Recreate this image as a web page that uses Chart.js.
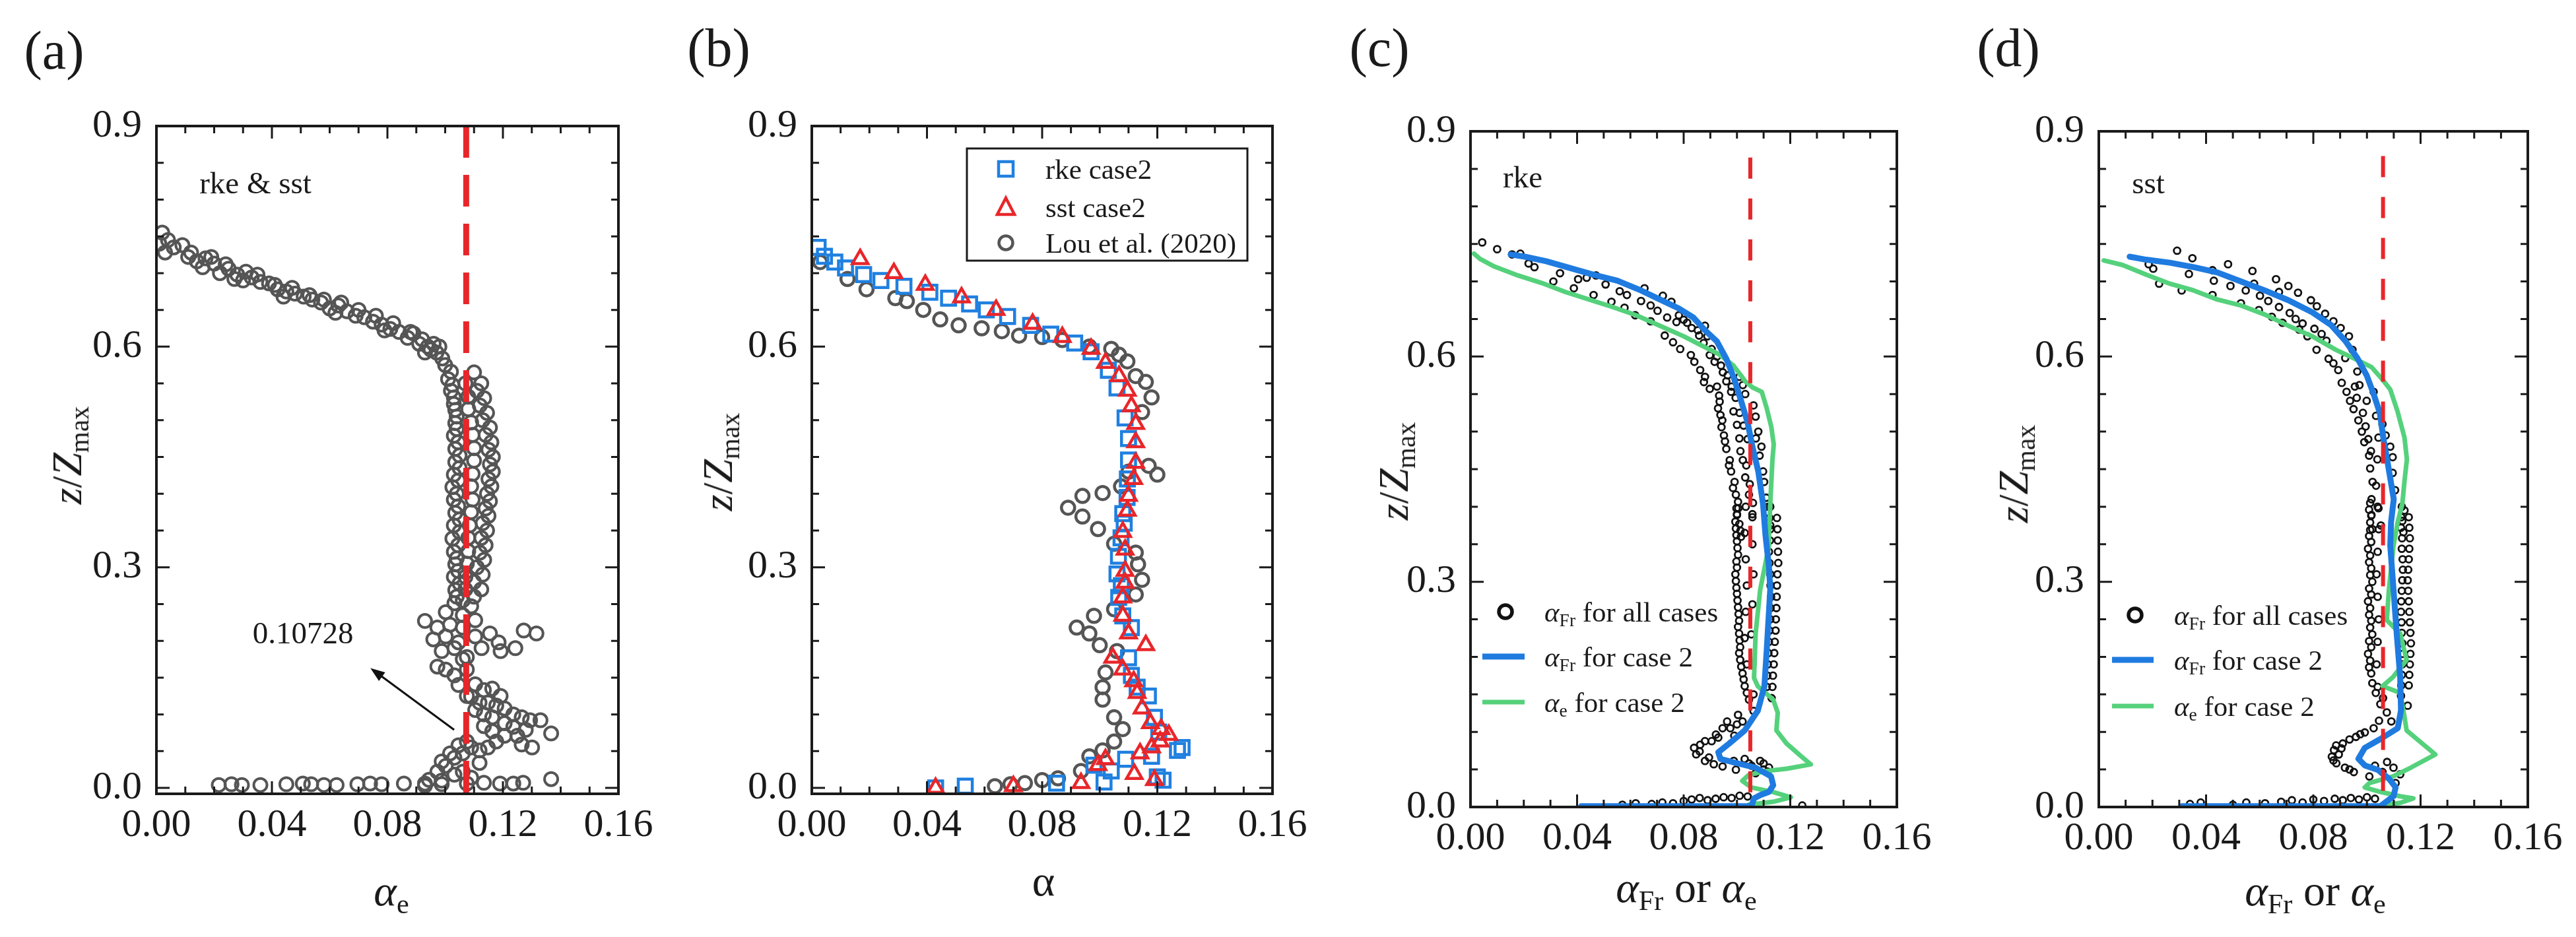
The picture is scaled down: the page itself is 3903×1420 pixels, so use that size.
<!DOCTYPE html>
<html>
<head>
<meta charset="utf-8">
<script src="https://cdn.jsdelivr.net/npm/chart.js@4.4.1/dist/chart.umd.min.js"></script>
<style>
  html, body { margin: 0; padding: 0; background: #fff; }
  #page { position: relative; width: 3903px; height: 1420px; overflow: hidden;
          font-family: 'Liberation Serif', 'Times New Roman', serif; color: #1a1a1a; }
  canvas { position: absolute; left: 0; top: 0; }
  .t { position: absolute; white-space: nowrap; line-height: 1; transform: translate(-50%, -50%); }
  .tl { position: absolute; white-space: nowrap; line-height: 1; transform: translateY(-50%); font-size: 43px; }
  .yt { font-size: 64px; transform: translate(-50%, -50%) rotate(-90deg); }
  sub { font-size: 0.64em; vertical-align: -0.28em; font-style: normal; line-height: 0; }
  #marks { position: absolute; left: 0; top: 0; }
</style>
</head>
<body>
<div id="page">
  <canvas id="ca" width="3903" height="1420"></canvas>
  <canvas id="cb" width="3903" height="1420"></canvas>
  <canvas id="cc" width="3903" height="1420"></canvas>
  <canvas id="cd" width="3903" height="1420"></canvas>

  <!-- panel labels -->
  <div class="t" style="left:82px;top:77px;font-size:82px">(a)</div>
  <div class="t" style="left:1089px;top:73px;font-size:82px">(b)</div>
  <div class="t" style="left:2090px;top:73px;font-size:82px">(c)</div>
  <div class="t" style="left:3043px;top:73px;font-size:82px">(d)</div>

  <!-- axis titles -->
  <div class="t yt" style="left:102px;top:690px"><i>z</i>/<i>Z</i><sub>max</sub></div>
  <div class="t yt" style="left:1088px;top:700px"><i>z</i>/<i>Z</i><sub>max</sub></div>
  <div class="t yt" style="left:2112px;top:714px"><i>z</i>/<i>Z</i><sub>max</sub></div>
  <div class="t yt" style="left:3051px;top:718px"><i>z</i>/<i>Z</i><sub>max</sub></div>

  <div class="t" style="left:593px;top:1350px;font-size:66px"><i>α</i><sub>e</sub></div>
  <div class="t" style="left:1581px;top:1335px;font-size:66px">α</div>
  <div class="t" style="left:2555px;top:1345px;font-size:66px"><i>α</i><sub>Fr</sub> or <i>α</i><sub>e</sub></div>
  <div class="t" style="left:3508px;top:1350px;font-size:66px"><i>α</i><sub>Fr</sub> or <i>α</i><sub>e</sub></div>

  <!-- in-plot notes -->
  <div class="t" style="left:387px;top:277px;font-size:47px">rke &amp; sst</div>
  <div class="t" style="left:459px;top:959px;font-size:47px">0.10728</div>
  <div class="t" style="left:2307px;top:268px;font-size:47px">rke</div>
  <div class="t" style="left:3255px;top:277px;font-size:47px">sst</div>

  <!-- legend symbols -->
  <svg id="marks" width="3903" height="1420">
    <rect x="1465" y="225" width="425" height="170" fill="#fff" stroke="#1a1a1a" stroke-width="3"/>
    <rect x="1513" y="245" width="22" height="22" fill="none" stroke="#1f80e0" stroke-width="4.5"/>
    <polygon points="1524,300 1537,325 1511,325" fill="none" stroke="#e8262a" stroke-width="4.5"/>
    <circle cx="1524" cy="368" r="10.5" fill="none" stroke="#555" stroke-width="4.5"/>

    <circle cx="2281" cy="927" r="10" fill="none" stroke="#111" stroke-width="5.5"/>
    <line x1="2246" y1="995" x2="2310" y2="995" stroke="#1f7be0" stroke-width="9"/>
    <line x1="2246" y1="1064" x2="2310" y2="1064" stroke="#55d17c" stroke-width="7"/>

    <circle cx="3235" cy="932" r="10" fill="none" stroke="#111" stroke-width="5.5"/>
    <line x1="3200" y1="1000" x2="3263" y2="1000" stroke="#1f7be0" stroke-width="9"/>
    <line x1="3200" y1="1070" x2="3263" y2="1070" stroke="#55d17c" stroke-width="7"/>
  </svg>

  <!-- legend texts -->
  <div class="tl" style="left:1584px;top:256px">rke case2</div>
  <div class="tl" style="left:1584px;top:314px">sst case2</div>
  <div class="tl" style="left:1584px;top:368px">Lou et al. (2020)</div>

  <div class="tl" style="left:2340px;top:927px"><i>α</i><sub>Fr</sub> for all cases</div>
  <div class="tl" style="left:2340px;top:995px"><i>α</i><sub>Fr</sub> for case 2</div>
  <div class="tl" style="left:2340px;top:1064px"><i>α</i><sub>e</sub> for case 2</div>

  <div class="tl" style="left:3294px;top:932px"><i>α</i><sub>Fr</sub> for all cases</div>
  <div class="tl" style="left:3294px;top:1000px"><i>α</i><sub>Fr</sub> for case 2</div>
  <div class="tl" style="left:3294px;top:1070px"><i>α</i><sub>e</sub> for case 2</div>
</div>

<script>
// axis ticks
const xTicks = [0, 0.04, 0.08, 0.12, 0.16];
const yTicks = [0, 0.3, 0.6, 0.9];
const xMinorStep = 0.01;
const yMinorStep = 0.05;

// (a) alpha_e, rke & sst: [alpha, z/Zmax]
const aCircles = [
  [0.002,0.755],[0.001,0.74],[0.003,0.728],[0.006,0.735],[0.009,0.738],[0.011,0.722],[0.014,0.716],[0.017,0.72],
  [0.02,0.713],[0.022,0.7],[0.025,0.706],[0.028,0.698],[0.031,0.702],[0.033,0.694],[0.036,0.688],[0.039,0.686],
  [0.042,0.678],[0.045,0.675],[0.048,0.672],[0.051,0.668],[0.054,0.664],[0.057,0.66],[0.06,0.652],[0.063,0.656],
  [0.066,0.648],[0.069,0.642],[0.072,0.64],[0.075,0.634],[0.078,0.63],[0.081,0.624],[0.084,0.62],[0.087,0.612],
  [0.089,0.618],[0.091,0.604],[0.094,0.6],[0.096,0.604],[0.097,0.592],[0.099,0.584],[0.1,0.575],[0.102,0.566],
  [0.012,0.728],[0.019,0.722],[0.024,0.712],[0.03,0.69],[0.035,0.698],[0.041,0.684],[0.047,0.68],[0.053,0.67],
  [0.058,0.664],[0.064,0.66],[0.07,0.65],[0.076,0.642],[0.082,0.632],[0.088,0.62],[0.092,0.61],[0.095,0.596],
  [0.004,0.745],[0.016,0.708],[0.027,0.692],[0.044,0.668],[0.062,0.646],[0.079,0.622],[0.093,0.592],[0.098,0.6],
  [0.101,0.556],[0.102,0.54],[0.103,0.522],[0.104,0.505],[0.104,0.488],[0.1045,0.47],[0.105,0.452],[0.105,0.435],
  [0.1045,0.418],[0.104,0.4],[0.1045,0.383],[0.105,0.365],[0.105,0.348],[0.1045,0.33],[0.104,0.312],[0.1045,0.295],
  [0.105,0.278],[0.104,0.26],
  [0.1025,0.548],[0.103,0.531],[0.1035,0.514],[0.1035,0.496],[0.103,0.479],[0.1035,0.461],[0.1035,0.443],[0.103,0.426],
  [0.1025,0.409],[0.103,0.392],[0.1035,0.374],[0.103,0.357],[0.1025,0.339],[0.103,0.321],[0.1035,0.304],[0.103,0.287],
  [0.1035,0.269],
  [0.107,0.55],[0.108,0.532],[0.108,0.515],[0.109,0.497],[0.1095,0.48],[0.11,0.462],[0.11,0.445],[0.1095,0.427],
  [0.109,0.41],[0.1095,0.392],[0.109,0.375],[0.1085,0.357],[0.108,0.34],[0.108,0.322],[0.1075,0.305],[0.107,0.287],
  [0.107,0.27],
  [0.11,0.565],[0.111,0.54],[0.112,0.52],[0.113,0.5],[0.114,0.48],[0.115,0.46],[0.1155,0.44],[0.115,0.42],
  [0.1145,0.4],[0.114,0.38],[0.113,0.36],[0.1125,0.34],[0.112,0.32],[0.111,0.3],[0.11,0.28],[0.11,0.26],
  [0.1125,0.55],[0.1135,0.53],[0.1145,0.51],[0.1155,0.49],[0.116,0.47],[0.1165,0.45],[0.1165,0.43],[0.116,0.41],
  [0.1155,0.39],[0.115,0.37],[0.1145,0.35],[0.114,0.33],[0.1135,0.31],[0.113,0.29],[0.1125,0.27],
  [0.093,0.227],[0.0973,0.218],[0.0959,0.202],[0.1002,0.206],[0.0988,0.186],[0.1032,0.19],[0.0973,0.165],[0.1002,0.161],
  [0.1032,0.153],[0.1061,0.218],[0.1046,0.198],[0.1075,0.178],[0.1104,0.206],[0.1126,0.19],[0.1155,0.21],[0.1185,0.198],
  [0.1192,0.186],[0.1243,0.19],[0.1272,0.214],[0.1316,0.21],[0.1017,0.222],[0.1002,0.239],[0.1032,0.251],[0.1061,0.255],
  [0.109,0.247],[0.1075,0.161],[0.1104,0.141],[0.109,0.124],[0.1134,0.133],[0.1148,0.116],[0.1177,0.112],[0.1206,0.108],
  [0.1236,0.1],[0.1265,0.096],[0.1294,0.092],[0.133,0.092],[0.1367,0.074],[0.1279,0.079],[0.125,0.071],[0.1301,0.055],
  [0.1265,0.059],[0.1206,0.071],[0.1177,0.063],[0.1148,0.055],[0.1119,0.051],[0.109,0.055],[0.1206,0.088],[0.1163,0.096],
  [0.1134,0.1],[0.1119,0.116],[0.1061,0.235],[0.1104,0.228],[0.1061,0.175],[0.1046,0.14],[0.1075,0.125],[0.1104,0.106],
  [0.1134,0.084],[0.1163,0.077],[0.1236,0.083],[0.1192,0.125],[0.1163,0.135],
  [0.1061,0.047],[0.1032,0.041],[0.1002,0.03],[0.0973,0.022],[0.0944,0.011],[0.093,0.003],[0.0988,0.01],[0.1032,0.018],
  [0.1061,0.022],[0.109,0.014],[0.1119,0.034],[0.1075,0.063],[0.1046,0.058],[0.1017,0.047],[0.0988,0.036],
  [0.0216,0.004],[0.026,0.005],[0.0296,0.004],[0.036,0.004],[0.045,0.005],[0.0507,0.006],[0.0536,0.005],[0.058,0.004],
  [0.0624,0.004],[0.0696,0.005],[0.074,0.006],[0.078,0.005],[0.0857,0.006],[0.093,0.006],[0.0988,0.005],[0.1075,0.006],
  [0.1134,0.007],[0.119,0.006],[0.1236,0.006],[0.127,0.007],[0.1367,0.012]
];
const aRefAlpha = 0.10728;
const aRefZ = [0.9, -0.008];
const aArrow = [[0.1031, 0.079], [0.0741, 0.163]]; // tail, head

// (b) alpha profiles: [alpha, z/Zmax]
const bRke = [
  [0.0022,0.735],[0.0044,0.723],[0.008,0.715],[0.0117,0.707],[0.018,0.698],[0.024,0.69],[0.032,0.682],[0.041,0.674],
  [0.0475,0.666],[0.0548,0.658],[0.0606,0.65],[0.068,0.641],[0.076,0.629],[0.083,0.617],[0.0913,0.605],[0.097,0.593],
  [0.103,0.568],[0.106,0.544],[0.1088,0.503],[0.11,0.475],[0.11,0.446],[0.1096,0.42],[0.1095,0.395],[0.108,0.373],
  [0.1085,0.36],[0.1074,0.34],[0.1065,0.315],[0.106,0.291],[0.1075,0.275],[0.1066,0.259],[0.108,0.234],[0.111,0.218],
  [0.11,0.177],[0.111,0.153],[0.113,0.137],[0.1169,0.125],[0.119,0.096],[0.1205,0.076],[0.127,0.051],[0.1286,0.055],
  [0.118,0.043],[0.109,0.039],[0.098,0.031],[0.104,0.023],[0.12,0.015],[0.122,0.0106],[0.1015,0.008],[0.085,0.0065],
  [0.0533,0.0024],[0.043,0]
];
const bSst = [
  [0.0168,0.719],[0.0285,0.7],[0.0394,0.684],[0.052,0.667],[0.064,0.65],[0.0767,0.631],[0.087,0.613],[0.097,0.597],
  [0.102,0.578],[0.1067,0.56],[0.1096,0.54],[0.111,0.519],[0.1125,0.495],[0.1125,0.47],[0.1125,0.442],[0.1118,0.42],
  [0.11,0.397],[0.1096,0.377],[0.108,0.348],[0.1088,0.324],[0.1088,0.295],[0.1088,0.279],[0.108,0.259],[0.108,0.234],
  [0.11,0.21],[0.116,0.194],[0.1045,0.177],[0.108,0.161],[0.1118,0.145],[0.113,0.129],[0.1147,0.108],[0.1176,0.088],
  [0.1213,0.08],[0.124,0.072],[0.121,0.063],[0.118,0.055],[0.114,0.047],[0.102,0.039],[0.0994,0.031],[0.112,0.019],
  [0.119,0.0106],[0.0935,0.0065],[0.07,0.0024],[0.043,0]
];
const bLou = [
  [0.0029,0.715],[0.0124,0.692],[0.019,0.678],[0.029,0.666],[0.033,0.662],[0.0387,0.65],[0.0446,0.637],[0.051,0.629],
  [0.059,0.625],[0.066,0.621],[0.072,0.615],[0.08,0.613],[0.087,0.609],[0.0964,0.6],[0.104,0.597],[0.1067,0.589],
  [0.1096,0.58],[0.1125,0.56],[0.116,0.552],[0.118,0.531],[0.1147,0.511],[0.117,0.438],[0.12,0.426],[0.11,0.43],
  [0.1074,0.41],[0.101,0.401],[0.094,0.397],[0.089,0.381],[0.094,0.369],[0.0994,0.352],[0.105,0.332],[0.1125,0.32],
  [0.1133,0.304],[0.1147,0.283],[0.1125,0.263],[0.105,0.243],[0.098,0.234],[0.092,0.218],[0.0964,0.21],[0.1,0.194],
  [0.106,0.186],[0.102,0.157],[0.101,0.137],[0.101,0.12],[0.105,0.096],[0.108,0.08],[0.105,0.063],[0.101,0.051],
  [0.0964,0.043],[0.0935,0.023],[0.0855,0.013],[0.08,0.0106],[0.074,0.0065],[0.069,0.005],[0.0636,0.0024]
];

// (c) rke: [alpha, z/Zmax]
const cAll = [
  [0.0044,0.752],[0.01,0.743],[0.0156,0.736],[0.0187,0.737],[0.0218,0.724],[0.024,0.719],[0.0311,0.7],[0.0336,0.711],
  [0.0388,0.691],[0.0404,0.703],[0.0436,0.705],[0.0462,0.682],[0.0471,0.708],[0.0507,0.696],[0.0529,0.673],[0.056,0.687],
  [0.0578,0.665],[0.0587,0.682],[0.0618,0.655],[0.064,0.674],[0.0653,0.691],[0.0676,0.668],[0.0676,0.647],[0.0702,0.661],
  [0.0722,0.681],[0.0729,0.628],[0.0738,0.652],[0.0754,0.673],[0.076,0.619],[0.0773,0.646],[0.0787,0.61],[0.08,0.649],
  [0.0827,0.602],[0.084,0.593],[0.0853,0.635],[0.0862,0.582],[0.088,0.573],[0.0876,0.566],[0.088,0.641],[0.0889,0.627],
  [0.0898,0.557],[0.0898,0.602],[0.0916,0.593],[0.0933,0.548],[0.0929,0.531],[0.0938,0.522],[0.0942,0.506],[0.0951,0.495],
  [0.096,0.477],[0.0973,0.462],[0.0978,0.447],[0.0991,0.433],[0.0996,0.416],[0.1005,0.398],[0.1009,0.377],[0.1013,0.368],
  [0.0947,0.579],[0.096,0.567],[0.0978,0.553],[0.0987,0.527],[0.1,0.509],[0.1009,0.491],[0.1013,0.474],[0.1022,0.462],
  [0.1031,0.439],[0.1045,0.416],[0.1058,0.386],
  [0.1009,0.573],[0.1022,0.562],[0.1031,0.55],[0.1062,0.535],[0.1071,0.491],[0.1085,0.468],[0.1098,0.447],[0.1102,0.433],
  [0.1116,0.392],[0.1125,0.375],
  [0.0782,0.655],[0.0813,0.645],[0.083,0.638],[0.0858,0.628],[0.0875,0.618],[0.0905,0.61],[0.0925,0.6],[0.094,0.588],
  [0.0965,0.575],[0.098,0.56],[0.0995,0.545],[0.101,0.525],[0.1025,0.508],[0.104,0.49],
  [0.0935,0.54],[0.0945,0.515],[0.0955,0.487],[0.097,0.455],[0.0985,0.425],[0.1,0.39],[0.1015,0.36],[0.0925,0.56],
  [0.1035,0.455],[0.1048,0.43],[0.106,0.405],[0.107,0.52],[0.108,0.5],[0.1092,0.48],[0.111,0.412],[0.1118,0.4],
  [0.1004,0.4065],[0.1,0.389],[0.0996,0.371],[0.1,0.354],[0.1004,0.336],[0.1,0.319],[0.0996,0.301],[0.1,0.284],
  [0.1004,0.266],[0.1008,0.248],[0.1008,0.231],[0.1012,0.213],[0.1012,0.196],[0.1021,0.178],[0.1029,0.161],[0.1045,0.143],
  [0.1062,0.128],
  [0.0998,0.398],[0.0994,0.38],[0.0998,0.362],[0.1002,0.345],[0.0998,0.327],[0.0994,0.31],[0.0998,0.292],[0.1002,0.275],
  [0.1006,0.257],[0.1004,0.24],[0.101,0.222],[0.1008,0.205],[0.1016,0.187],[0.1025,0.17],[0.1037,0.152],
  [0.1033,0.4],[0.1029,0.365],[0.1033,0.33],[0.1037,0.295],[0.1033,0.26],[0.1029,0.225],[0.1037,0.19],
  [0.1058,0.39],[0.1058,0.35],[0.1062,0.31],[0.1058,0.27],[0.1054,0.23],[0.1058,0.19],[0.1062,0.15],
  [0.1125,0.4],[0.1125,0.37],[0.112,0.34],[0.1125,0.31],[0.1128,0.28],[0.1125,0.25],[0.112,0.22],[0.1116,0.19],[0.1112,0.16],
  [0.1122,0.385],[0.1124,0.355],[0.1122,0.325],[0.1126,0.295],[0.1126,0.265],[0.1122,0.235],[0.1118,0.205],[0.1114,0.175],
  [0.115,0.385],[0.1153,0.355],[0.1155,0.325],[0.115,0.295],[0.1148,0.265],[0.1145,0.235],[0.114,0.205],[0.1135,0.175],[0.113,0.145],
  [0.1152,0.37],[0.1154,0.34],[0.1152,0.31],[0.1149,0.28],[0.1146,0.25],[0.1142,0.22],[0.1138,0.19],[0.1133,0.16],
  [0.0963,0.1139],[0.0946,0.105],[0.0921,0.0965],[0.088,0.0877],[0.0839,0.0789],[0.0847,0.0702],[0.088,0.0614],[0.0913,0.057],
  [0.0946,0.054],[0.0905,0.0877],[0.0988,0.0614],[0.1029,0.064],[0.1087,0.0614],[0.112,0.0526],[0.0996,0.0497],[0.1021,0.1139],
  [0.1004,0.1227],[0.1045,0.058],[0.107,0.045],[0.11,0.05],[0.1115,0.047],[0.0975,0.105],[0.099,0.095],[0.0862,0.083],
  [0.086,0.074],[0.0895,0.066],[0.093,0.0925],[0.1,0.11],[0.1055,0.055],[0.11,0.058],
  [0.057,0.003],[0.062,0.005],[0.068,0.004],[0.072,0.006],[0.076,0.005],[0.08,0.008],[0.083,0.01],[0.086,0.012],
  [0.089,0.009],[0.092,0.011],[0.095,0.013],[0.098,0.012],[0.101,0.015],[0.104,0.014],[0.1245,0.002]
];
const cFrCase2 = [
  [0.0151,0.736],[0.0204,0.733],[0.0284,0.727],[0.0373,0.718],[0.0462,0.709],[0.0551,0.701],[0.064,0.688],[0.0711,0.676],
  [0.0782,0.664],[0.0836,0.652],[0.088,0.635],[0.0925,0.62],[0.096,0.597],[0.0987,0.573],[0.1013,0.544],[0.104,0.512],
  [0.1058,0.48],[0.108,0.447],[0.1098,0.403],[0.1107,0.362],[0.112,0.32],[0.1125,0.29],[0.112,0.26],[0.1111,0.205],
  [0.1103,0.161],[0.1078,0.128],[0.1029,0.102],[0.0971,0.0846],[0.093,0.0729],[0.0938,0.064],[0.1004,0.058],[0.107,0.0524],
  [0.1128,0.0407],[0.1136,0.029],[0.112,0.0202],[0.1087,0.0158],[0.1064,0.0114],[0.1054,0.001],[0.0415,0.001]
];
const cECase2 = [
  [0.0013,0.737],[0.0036,0.73],[0.0089,0.72],[0.0178,0.708],[0.0267,0.698],[0.0356,0.686],[0.0445,0.676],[0.0533,0.666],
  [0.0622,0.655],[0.0711,0.641],[0.08,0.627],[0.0871,0.614],[0.0933,0.603],[0.0987,0.588],[0.1031,0.567],[0.1058,0.559],
  [0.1093,0.553],[0.1111,0.532],[0.1129,0.506],[0.1138,0.483],[0.1133,0.462],[0.1129,0.433],[0.1125,0.404],[0.112,0.362],
  [0.112,0.348],[0.1087,0.289],[0.107,0.231],[0.1064,0.172],[0.1078,0.161],[0.1136,0.143],[0.1153,0.1256],[0.1148,0.102],
  [0.1186,0.0846],[0.1243,0.067],[0.1277,0.0568],[0.1186,0.051],[0.1111,0.048],[0.1045,0.043],[0.102,0.0348],[0.1054,0.026],
  [0.1136,0.0199],[0.1202,0.0129],[0.1136,0.007],[0.1045,0.003]
];
const cRefAlpha = 0.105;
const cRefZ = [0.865, 0];

// (d) sst: [alpha, z/Zmax]
const dAll = [
  [0.0292,0.741],[0.0349,0.731],[0.0186,0.723],[0.0203,0.717],[0.0225,0.697],[0.0309,0.688],[0.0336,0.71],[0.0424,0.715],
  [0.0429,0.701],[0.0424,0.682],[0.0482,0.723],[0.0491,0.694],[0.053,0.671],[0.0548,0.688],[0.0573,0.714],[0.0579,0.697],
  [0.0597,0.662],[0.0601,0.681],[0.0632,0.674],[0.0645,0.653],[0.0661,0.703],[0.0672,0.686],[0.0672,0.666],[0.0685,0.645],
  [0.0707,0.694],[0.0712,0.658],[0.0734,0.65],[0.0743,0.685],[0.0747,0.636],[0.076,0.644],[0.0791,0.675],[0.0778,0.627],
  [0.0804,0.637],[0.0812,0.609],[0.0813,0.667],[0.0831,0.63],[0.0844,0.657],[0.0849,0.621],[0.0857,0.597],[0.0875,0.647],
  [0.0875,0.591],[0.0893,0.582],[0.0902,0.638],[0.0906,0.565],[0.0919,0.598],[0.0924,0.553],[0.0933,0.627],[0.0937,0.541],
  [0.0946,0.609],[0.095,0.53],[0.0964,0.58],[0.0968,0.515],[0.0981,0.5],[0.0972,0.562],[0.099,0.486],[0.0999,0.541],
  [0.1008,0.468],[0.1012,0.451],[0.1025,0.553],[0.1021,0.433],[0.1017,0.41],[0.1017,0.389],[0.1012,0.369],[0.1034,0.521],
  [0.1043,0.492],[0.1039,0.463],[0.1034,0.428],[0.1043,0.398],[0.1052,0.375],[0.1087,0.48],[0.1096,0.466],[0.1096,0.445],
  [0.1105,0.422],[0.114,0.395],[0.1132,0.381],[0.1136,0.366],
  [0.0955,0.56],[0.0962,0.545],[0.0985,0.525],[0.0995,0.507],[0.1005,0.49],[0.1015,0.474],[0.1058,0.51],[0.107,0.495],
  [0.1012,0.405],[0.1016,0.388],[0.102,0.37],[0.1016,0.353],[0.1012,0.335],[0.1016,0.318],[0.102,0.3],[0.1016,0.283],
  [0.1012,0.265],[0.1016,0.248],[0.102,0.23],[0.1016,0.213],[0.1012,0.195],[0.1016,0.178],[0.102,0.165],
  [0.1008,0.396],[0.1012,0.379],[0.1008,0.361],[0.1004,0.344],[0.1008,0.326],[0.1012,0.309],[0.1008,0.291],[0.1004,0.274],
  [0.1008,0.256],[0.1012,0.239],[0.1008,0.221],[0.1004,0.204],[0.1008,0.186],
  [0.104,0.4],[0.1044,0.37],[0.104,0.34],[0.1036,0.31],[0.104,0.28],[0.1044,0.25],[0.104,0.22],[0.1036,0.19],[0.104,0.16],
  [0.113,0.4],[0.1127,0.372],[0.113,0.344],[0.1134,0.316],[0.113,0.288],[0.1127,0.26],[0.113,0.232],[0.1134,0.204],
  [0.113,0.176],[0.1127,0.148],
  [0.1128,0.386],[0.1131,0.358],[0.1133,0.33],[0.1132,0.302],[0.1128,0.274],[0.1129,0.246],[0.1132,0.218],[0.1132,0.19],
  [0.1128,0.162],
  [0.1156,0.386],[0.116,0.358],[0.1156,0.33],[0.1152,0.302],[0.1156,0.274],[0.116,0.246],[0.1164,0.218],[0.116,0.19],
  [0.1156,0.162],[0.1152,0.135],
  [0.1158,0.372],[0.1158,0.344],[0.1154,0.316],[0.1154,0.288],[0.1158,0.26],[0.1162,0.232],[0.1162,0.204],[0.1158,0.176],
  [0.1033,0.152],[0.105,0.137],[0.1074,0.126],[0.1091,0.114],[0.1025,0.105],[0.0992,0.0993],[0.0959,0.0934],[0.091,0.0846],
  [0.0877,0.0758],[0.0869,0.067],[0.0886,0.0583],[0.0918,0.0524],[0.0951,0.0466],[0.1009,0.0407],[0.1058,0.0466],[0.1099,0.0524],
  [0.1124,0.0436],[0.1107,0.0319],[0.0935,0.09],[0.0895,0.07],[0.0905,0.078],[0.1075,0.06],[0.103,0.055],[0.0975,0.097],
  [0.0885,0.082],[0.0875,0.062],[0.0935,0.05],[0.1045,0.115],[0.106,0.145],
  [0.034,0.004],[0.038,0.006],[0.05,0.003],[0.055,0.006],[0.062,0.005],[0.068,0.007],[0.072,0.009],[0.076,0.006],
  [0.08,0.01],[0.084,0.008],[0.088,0.011],[0.091,0.009],[0.094,0.012],[0.097,0.01],[0.1,0.013],[0.103,0.011]
];
const dFrCase2 = [
  [0.0115,0.733],[0.0177,0.729],[0.0265,0.725],[0.0354,0.719],[0.0442,0.712],[0.053,0.7],[0.0619,0.688],[0.0707,0.675],
  [0.0796,0.659],[0.0866,0.642],[0.0919,0.621],[0.0964,0.598],[0.0999,0.575],[0.1025,0.55],[0.1048,0.525],[0.1061,0.492],
  [0.1078,0.457],[0.11,0.41],[0.109,0.38],[0.1087,0.348],[0.1099,0.29],[0.1111,0.231],[0.1124,0.173],[0.1127,0.129],
  [0.1115,0.105],[0.105,0.0905],[0.0992,0.0788],[0.0968,0.0642],[0.0992,0.0554],[0.1041,0.0495],[0.1082,0.0378],[0.1107,0.0261],
  [0.1099,0.0143],[0.1066,0.0055],[0.105,0.001],[0.031,0.001]
];
const dECase2 = [
  [0.0018,0.728],[0.0088,0.722],[0.0177,0.709],[0.0265,0.697],[0.0354,0.688],[0.0442,0.676],[0.053,0.668],[0.0619,0.656],
  [0.0707,0.641],[0.0796,0.627],[0.0884,0.609],[0.0955,0.597],[0.1017,0.586],[0.1061,0.568],[0.1087,0.556],[0.1114,0.527],
  [0.114,0.492],[0.1149,0.463],[0.114,0.434],[0.1132,0.404],[0.1115,0.38],[0.1099,0.348],[0.1082,0.29],[0.1074,0.249],
  [0.1124,0.231],[0.1148,0.196],[0.1097,0.173],[0.1058,0.161],[0.1124,0.152],[0.114,0.12],[0.1148,0.102],[0.1255,0.07],
  [0.1164,0.0525],[0.1097,0.0407],[0.1009,0.0319],[0.0992,0.0261],[0.105,0.0202],[0.1124,0.0143],[0.1173,0.0114],[0.1124,0.0055],
  [0.1058,0.0026]
];
const dRefAlpha = 0.106;
const dRefZ = [0.867, 0];

const FONT = "'Liberation Serif', 'Times New Roman', serif";
const INK = '#1a1a1a';
const pts = arr => arr.map(([x, y]) => ({ x, y }));
const vline = (a, zs) => zs.map(z => ({ x: a, y: z }));
const near = (list, v) => list.some(t => Math.abs(t - v) < 1e-9);

// box frame + inward ticks on all four sides, optional arrow
const frameTicks = {
  id: 'frameTicks',
  afterDraw(chart, args, opts) {
    const { ctx, chartArea: a, scales: { x, y } } = chart;
    ctx.save();
    ctx.strokeStyle = INK;
    ctx.lineWidth = 3;
    ctx.beginPath();
    for (let i = 0; i <= Math.round(x.max / xMinorStep); i++) {
      const v = +(i * xMinorStep).toFixed(4);
      const px = x.getPixelForValue(v);
      const len = near(xTicks, v) ? 19 : 11;
      ctx.moveTo(px, a.bottom); ctx.lineTo(px, a.bottom - len);
      ctx.moveTo(px, a.top); ctx.lineTo(px, a.top + len);
    }
    for (let i = 0; i <= Math.round(y.max / yMinorStep); i++) {
      const v = +(i * yMinorStep).toFixed(4);
      const py = y.getPixelForValue(v);
      const len = near(yTicks, v) ? 20 : 11;
      ctx.moveTo(a.left, py); ctx.lineTo(a.left + len, py);
      ctx.moveTo(a.right, py); ctx.lineTo(a.right - len, py);
    }
    ctx.stroke();
    ctx.lineWidth = 4;
    ctx.strokeRect(a.left, a.top, a.right - a.left, a.bottom - a.top);

    if (opts && opts.arrow) {
      const [t, h] = opts.arrow;
      const x1 = x.getPixelForValue(t[0]), y1 = y.getPixelForValue(t[1]);
      const x2 = x.getPixelForValue(h[0]), y2 = y.getPixelForValue(h[1]);
      const ang = Math.atan2(y2 - y1, x2 - x1);
      ctx.fillStyle = '#111';
      ctx.strokeStyle = '#111';
      ctx.lineWidth = 3;
      ctx.beginPath();
      ctx.moveTo(x1, y1);
      ctx.lineTo(x2 - 14 * Math.cos(ang), y2 - 14 * Math.sin(ang));
      ctx.stroke();
      ctx.beginPath();
      ctx.moveTo(x2, y2);
      ctx.lineTo(x2 - 22 * Math.cos(ang) + 8 * Math.sin(ang), y2 - 22 * Math.sin(ang) - 8 * Math.cos(ang));
      ctx.lineTo(x2 - 22 * Math.cos(ang) - 8 * Math.sin(ang), y2 - 22 * Math.sin(ang) + 8 * Math.cos(ang));
      ctx.closePath();
      ctx.fill();
    }
    ctx.restore();
  }
};

function panel(id, box, yMin, datasets, extra) {
  return new Chart(document.getElementById(id), {
    type: 'scatter',
    data: { datasets },
    options: {
      responsive: false,
      animation: false,
      devicePixelRatio: 1,
      layout: { padding: { left: box.l - 120, right: 3903 - box.r, top: box.t, bottom: 1420 - box.b - 100 } },
      plugins: { legend: { display: false }, tooltip: { enabled: false }, frameTicks: extra || {} },
      scales: {
        x: {
          type: 'linear', min: 0, max: 0.16,
          afterBuildTicks: s => { s.ticks = xTicks.map(v => ({ value: v })); },
          afterFit: s => { s.height = 100; s.paddingLeft = 0; s.paddingRight = 0; },
          ticks: { font: { family: FONT, size: 60 }, color: INK, padding: 12, maxRotation: 0, autoSkip: false,
                   callback: v => Number(v).toFixed(2) },
          grid: { display: false, drawTicks: false },
          border: { display: false }
        },
        y: {
          type: 'linear', min: yMin, max: 0.9,
          afterBuildTicks: s => { s.ticks = yTicks.map(v => ({ value: v })); },
          afterFit: s => { s.width = 120; s.paddingTop = 0; s.paddingBottom = 0; },
          ticks: { font: { family: FONT, size: 60 }, color: INK, padding: 22, autoSkip: false,
                   callback: v => Number(v).toFixed(1) },
          grid: { display: false, drawTicks: false },
          border: { display: false }
        }
      }
    },
    plugins: [frameTicks]
  });
}

const redDash = (data, w, dash) => ({
  data, showLine: true, borderColor: '#e8262a', borderWidth: w, borderDash: dash,
  pointRadius: 0, fill: false
});
const curve = (data, color, w) => ({
  data, showLine: true, borderColor: color, borderWidth: w, pointRadius: 0, fill: false,
  borderJoinStyle: 'round', borderCapStyle: 'round', tension: 0
});
const marks = (data, style, r, color, w) => ({
  data, showLine: false, pointStyle: style, pointRadius: r, borderColor: color, borderWidth: w,
  backgroundColor: 'rgba(255,255,255,0)'
});

panel('ca', { l: 237, r: 937, t: 191, b: 1203 }, -0.008, [
  redDash(vline(aRefAlpha, aRefZ), 9, [48, 26]),
  marks(pts(aCircles), 'circle', 10, '#555', 4)
], { arrow: aArrow });

panel('cb', { l: 1230, r: 1928, t: 191, b: 1203 }, -0.008, [
  marks(pts(bSst), 'triangle', 13.5, '#e8262a', 4.5),
  marks(pts(bRke), 'rect', 15, '#1f80e0', 4.5),
  marks(pts(bLou), 'circle', 10, '#555', 4.5)
]);

panel('cc', { l: 2228, r: 2874, t: 199, b: 1223 }, 0, [
  redDash(vline(cRefAlpha, cRefZ), 6, [32, 30]),
  curve(pts(cFrCase2), '#1f7be0', 9),
  curve(pts(cECase2), '#55d17c', 7),
  marks(pts(cAll), 'circle', 5, '#111', 2.8)
]);

panel('cd', { l: 3180, r: 3830, t: 199, b: 1223 }, 0, [
  redDash(vline(dRefAlpha, dRefZ), 6, [32, 30]),
  curve(pts(dFrCase2), '#1f7be0', 9),
  curve(pts(dECase2), '#55d17c', 7),
  marks(pts(dAll), 'circle', 5, '#111', 2.8)
]);
</script>
</body>
</html>
